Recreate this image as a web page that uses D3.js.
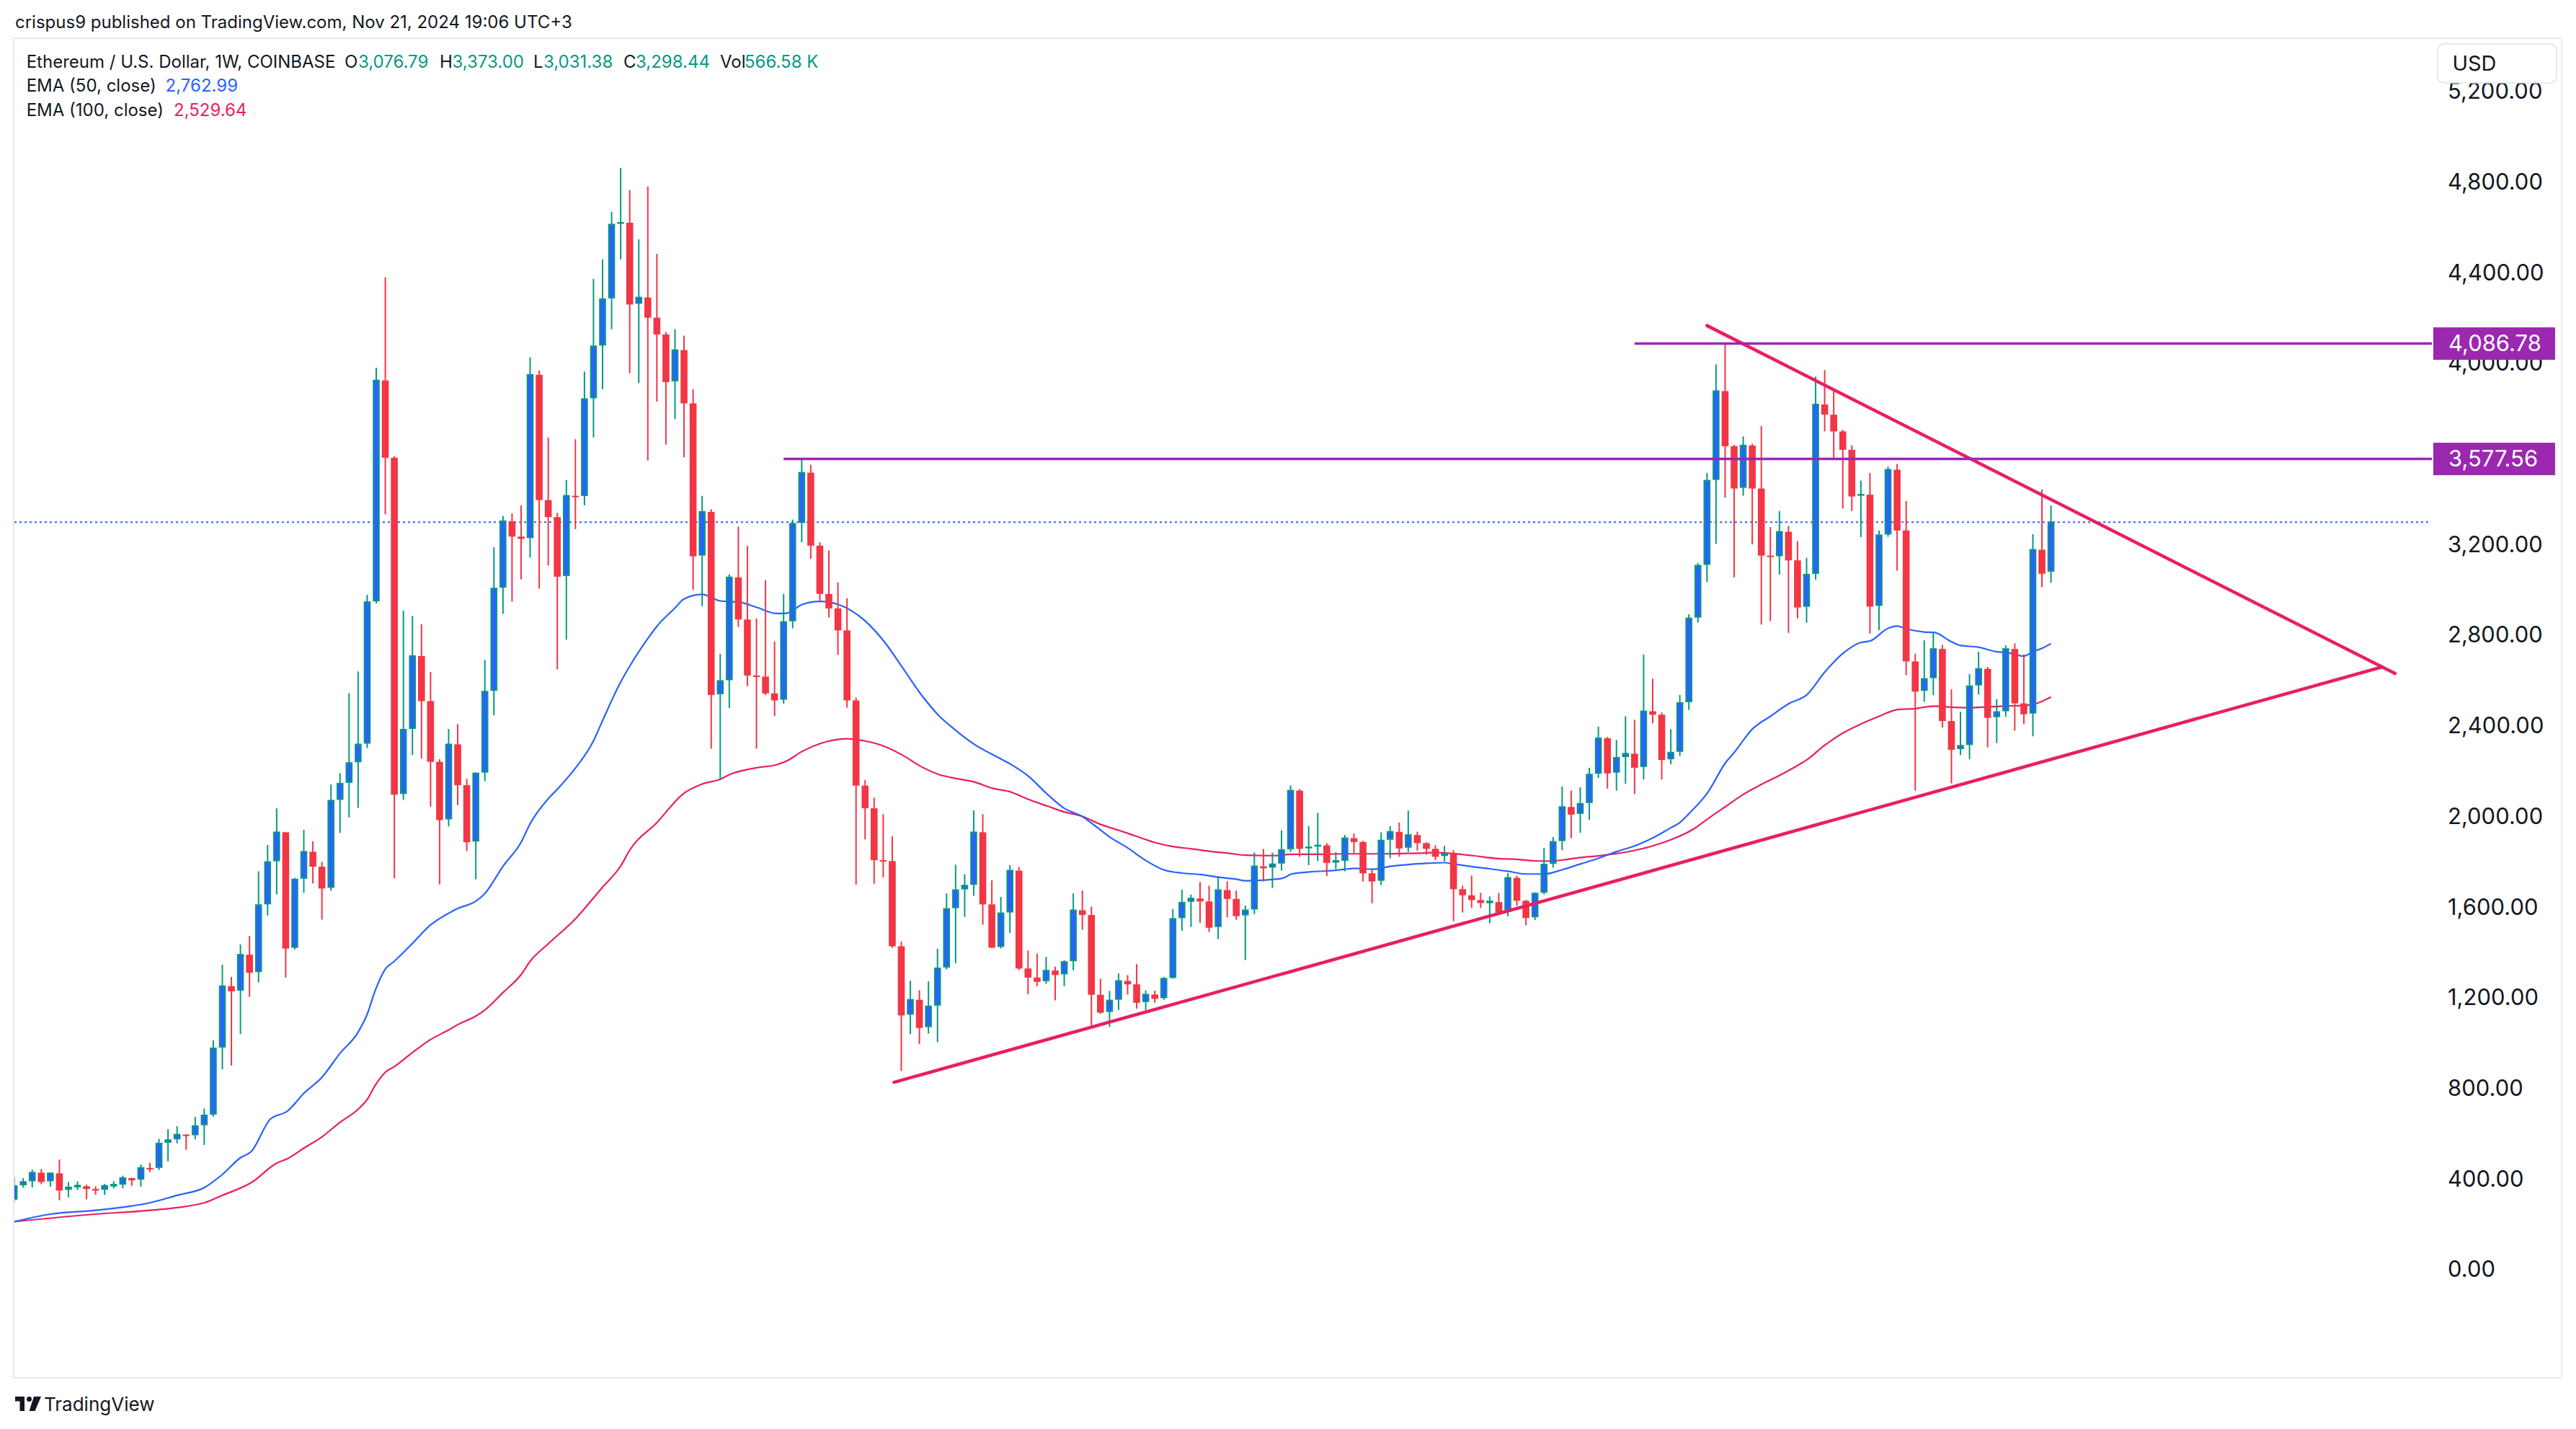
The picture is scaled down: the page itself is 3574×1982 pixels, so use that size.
<!DOCTYPE html>
<html><head><meta charset="utf-8">
<script src="https://cdn.jsdelivr.net/npm/d3@7"></script>
<style>
html,body{margin:0;padding:0;background:#fff;}
svg{display:block;}
text{font-family:Inter,"Noto Sans",Roboto,sans-serif;}
</style></head><body>
<svg id="chart" width="3574" height="1982"></svg>
<script>
// ---------- DATA ----------
const firstWeek = "2020-07-27";           // Monday of the first weekly bar
// weekly candles [open, high, low, close]
const ohlc = [
[306,408,300,369],[369,404,362,387],[387,441,363,428],[428,444,377,387],[387,430,366,425],
[425,486,306,349],[349,387,319,363],[364,390,352,368],[368,375,310,356],[356,368,330,349],
[349,378,330,370],[370,390,359,372],[372,415,359,404],[404,406,370,394],[394,464,367,449],
[449,472,430,446],[446,577,440,557],[557,620,478,572],[572,633,557,596],[596,598,529,590],
[590,674,575,634],[634,711,550,681],[681,1012,675,977],[977,1346,884,1251],[1251,1292,901,1228],
[1228,1435,1040,1390],[1390,1472,1204,1310],[1310,1758,1268,1609],[1609,1874,1563,1799],[1799,2036,1656,1930],
[1930,1932,1289,1417],[1417,1729,1412,1722],[1722,1941,1663,1844],[1844,1890,1704,1778],[1778,1800,1545,1682],
[1682,2141,1672,2070],[2070,2191,1927,2145],[2145,2544,1996,2236],[2236,2640,2038,2318],[2318,2978,2302,2946],
[2946,3980,2940,3924],[3924,4379,3333,3583],[3583,3590,1728,2096],[2096,2908,2073,2383],[2383,2885,2271,2708],
[2708,2848,2255,2509],[2509,2638,2043,2241],[2241,2253,1700,1984],[1984,2386,1956,2318],[2318,2407,2050,2138],
[2138,2166,1847,1886],[1886,2194,1723,2190],[2190,2691,2155,2551],[2551,3188,2446,3006],[3006,3326,2894,3303],
[3303,3338,2948,3235],[3235,3373,3046,3225],[3225,4026,3142,3949],[3949,3968,3006,3396],[3396,3672,3107,3321],
[3321,3340,2649,3058],[3058,3485,2780,3415],[3415,3665,3268,3411],[3411,3963,3373,3842],[3842,4372,3672,4075],
[4075,4458,3886,4283],[4283,4668,4150,4612],[4612,4862,4458,4620],[4620,4764,3956,4259],[4259,4547,3912,4290],
[4290,4780,3571,4201],[4201,4483,3830,4127],[4127,4138,3641,3917],[3917,4150,3753,4058],[4058,4122,3585,3823],
[3823,3886,3000,3148],[3148,3415,2928,3344],[3344,3356,2299,2536],[2536,2717,2160,2598],[2598,3069,2479,3055],
[3055,3279,2836,2869],[2869,3194,2575,2622],[2622,2874,2299,2617],[2617,3042,2536,2543],[2543,2772,2443,2512],
[2512,2982,2498,2858],[2858,3310,2830,3292],[3292,3577.56,3210,3517],[3517,3552,3137,3195],[3195,3210,2945,2982],
[2982,3174,2878,2918],[2918,3033,2713,2821],[2821,2963,2480,2512],[2512,2525,1698,2136],[2136,2160,1899,2036],
[2036,2083,1703,1807],[1807,2010,1731,1803],[1803,1913,1420,1427],[1427,1448,877,1122],[1122,1275,1039,1191],
[1191,1233,995,1067],[1067,1272,1042,1162],[1162,1417,1004,1330],[1330,1660,1325,1592],[1592,1787,1353,1675],
[1675,1745,1557,1695],[1695,2027,1650,1930],[1930,2010,1522,1612],[1612,1718,1419,1421],[1421,1645,1417,1573],
[1573,1785,1486,1761],[1761,1777,1321,1329],[1329,1408,1215,1289],[1289,1395,1251,1270],[1270,1380,1262,1320],
[1320,1337,1188,1300],[1300,1366,1251,1358],[1358,1660,1321,1586],[1586,1673,1500,1565],[1565,1602,1066,1213],
[1213,1284,1129,1134],[1134,1230,1071,1188],[1188,1307,1146,1274],[1274,1300,1214,1259],[1259,1348,1152,1178],
[1178,1233,1146,1214],[1214,1231,1178,1195],[1195,1292,1191,1284],[1284,1592,1284,1548],[1548,1677,1496,1620],
[1620,1655,1512,1638],[1638,1711,1530,1625],[1625,1695,1490,1509],[1509,1737,1459,1675],[1675,1714,1554,1636],
[1636,1673,1544,1560],[1560,1607,1366,1586],[1586,1841,1569,1780],[1780,1857,1713,1771],[1771,1840,1684,1789],
[1789,1939,1761,1852],[1852,2137,1843,2114],[2114,2121,1822,1857],[1857,1958,1785,1864],[1864,2016,1803,1872],
[1872,1883,1737,1795],[1795,1843,1767,1801],[1801,1918,1758,1904],[1904,1925,1838,1887],[1887,1893,1713,1749],
[1749,1766,1617,1713],[1713,1930,1697,1894],[1894,1957,1815,1932],[1932,1973,1822,1859],[1859,2026,1843,1918],
[1918,1933,1849,1882],[1882,1886,1831,1857],[1857,1873,1808,1822],[1822,1870,1801,1835],[1835,1851,1538,1679],
[1679,1695,1576,1652],[1652,1739,1597,1631],[1631,1663,1596,1618],[1618,1647,1528,1622],[1622,1663,1573,1576],
[1576,1750,1560,1729],[1729,1739,1605,1628],[1628,1631,1520,1552],[1552,1665,1543,1660],[1660,1861,1656,1788],
[1788,1909,1774,1888],[1888,2132,1851,2042],[2042,2114,1904,2008],[2008,2129,1928,2056],[2056,2215,1985,2185],
[2185,2397,2170,2345],[2345,2351,2123,2190],[2190,2338,2114,2259],[2259,2442,2144,2277],[2277,2427,2099,2215],
[2215,2714,2163,2464],[2464,2608,2411,2449],[2449,2459,2163,2249],[2249,2385,2230,2282],[2282,2536,2267,2501],
[2501,2892,2470,2874],[2874,3119,2855,3107],[3107,3516,3034,3482],[3482,3995,3203,3877],[3877,4086.78,3407,3634],
[3634,3640,3055,3447],[3447,3677,3415,3637],[3637,3645,3200,3447],[3447,3723,2847,3151],[3151,3277,2862,3145],
[3145,3348,3067,3256],[3256,3282,2810,3130],[3130,3215,2874,2922],[2922,3141,2855,3067],[3067,3941,3045,3818],
[3818,3970,3699,3773],[3773,3877,3573,3699],[3699,3707,3359,3618],[3618,3637,3348,3412],[3412,3482,3233,3420],
[3420,3516,2807,2926],[2926,3262,2822,3241],[3241,3544,3234,3530],[3530,3556,3085,3262],[3262,3392,2624,2684],
[2684,2718,2114,2551],[2551,2777,2506,2607],[2607,2814,2535,2739],[2739,2757,2392,2421],[2421,2561,2146,2294],
[2294,2462,2271,2312],[2312,2628,2252,2575],[2575,2727,2538,2651],[2651,2660,2305,2435],[2435,2517,2324,2461],
[2461,2755,2439,2739],[2739,2764,2379,2499],[2499,2716,2407,2451],[2451,3245,2354,3177],[3177,3443,3012,3071],
[3076.79,3373.00,3031.38,3298.44]
];
// EMA readings [week index from first bar, value]
const ema50 = [[0,212],[4,245],[9,262],[13,281],[15,295],[18,328],[21,362],[23,420],[25,494],[26.2,522],[28.3,664],[30.2,700],[32,778],[34,849],[36,955],[38,1048],[39,1127],[39.9,1233],[41,1326],[42,1361],[44,1440],[45.9,1518],[48,1573],[49,1594],[51,1626],[52,1660],[54,1780],[56,1886],[57,1968],[59,2078],[60,2120],[62,2213],[64,2334],[65,2423],[67,2593],[68,2663],[70,2785],[71,2839],[73,2920],[74,2960],[76,2980],[78,2951],[80.2,2945],[82,2923],[84.2,2896],[85.2,2896],[87.1,2936],[89,2949],[91,2936],[94,2863],[96.1,2772],[98.2,2653],[100.1,2543],[102.2,2443],[103.5,2397],[106,2320],[108.6,2262],[110.1,2230],[112,2179],[114,2103],[116,2036],[117.9,2002],[119.2,1965],[121.1,1907],[122.9,1864],[125,1806],[127,1764],[129,1750],[131,1744],[133,1732],[135,1723],[136,1716],[138,1719],[140.1,1727],[141.1,1746],[143.1,1755],[146,1762],[148.1,1771],[150.1,1767],[152,1780],[154,1788],[156,1793],[158,1796],[159,1790],[161.1,1778],[163,1769],[165,1758],[167,1746],[169,1746],[171.1,1766],[173,1790],[175,1815],[177,1845],[179,1870],[181,1905],[183,1950],[184,1973],[185,2012],[187.1,2107],[189.1,2240],[190,2282],[192,2385],[194,2442],[196.1,2499],[198,2536],[200,2637],[202,2719],[204,2768],[205,2774],[207,2830],[208,2840],[209.2,2826],[211,2814],[212.1,2812],[214,2771],[215,2755],[217,2747],[219.1,2726],[220,2724],[222,2708],[223,2727],[224,2742],[225,2763]];
const ema100 = [[0,212],[9,245],[15,262],[21,295],[23,328],[26.2,384],[29,470],[30.2,490],[32,536],[34,586],[36,650],[38,708],[39,751],[39.9,814],[41,871],[42,896],[44,958],[45.9,1013],[48,1058],[49.1,1083],[51,1119],[52,1146],[54,1223],[56,1302],[57,1361],[59,1438],[62,1548],[65,1688],[67,1781],[68,1851],[71,1973],[74,2103],[76,2143],[78,2164],[79,2184],[82,2215],[84.2,2228],[85.2,2242],[87.1,2288],[89,2321],[92,2343],[94,2333],[96.1,2310],[98.2,2269],[100.1,2222],[102.1,2186],[104.1,2167],[106,2153],[108.1,2124],[110.1,2108],[112,2076],[114.2,2045],[116,2020],[117.9,2002],[120,1965],[122,1939],[124,1912],[126,1885],[128,1867],[130.1,1857],[132.1,1846],[134.1,1838],[136.1,1829],[139.1,1827],[141.1,1833],[143.1,1833],[147,1835],[151,1835],[155,1838],[157,1840],[159,1836],[161.1,1827],[164,1814],[166,1811],[168,1804],[169,1803],[171.1,1808],[173,1819],[175,1826],[177,1836],[179,1850],[181,1870],[183,1897],[185.5,1944],[187.1,1990],[189.1,2045],[191,2097],[193,2141],[195,2181],[197,2225],[198,2249],[200,2314],[202,2368],[204,2408],[206,2442],[207,2459],[208.1,2472],[210,2476],[212.1,2487],[214,2482],[216,2480],[218,2483],[220,2487],[222,2490],[223,2493],[224,2508],[225,2527]];
const priceTicks = [0,400,800,1200,1600,2000,2400,2800,3200,4000,4400,4800,5200];
const timeTicks = [["2020-09-07","Sep"],["2021-01-04","2021"],["2021-05-03","May"],["2021-09-06","Sep"],["2022-01-03","2022"],["2022-05-02","May"],["2022-09-05","Sep"],["2023-01-02","2023"],["2023-05-01","May"],["2023-09-04","Sep"],["2024-01-01","2024"],["2024-05-06","May"],["2024-09-02","Sep"],["2025-01-06","2025"],["2025-05-05","May"],["2025-09-01","Sep"]];
// horizontal levels [start week index, price]
const levels = [[85,3577.56],[179,4086.78]];
// drawn trend lines [[week index, price],[week index, price]]
const trendLines = [[[97.2,827],[261.6,2660]],[[187.0,4166],[263.0,2631]]];
const lastPrice = 3298.44;
const header = "crispus9 published on TradingView.com, Nov 21, 2024 19:06 UTC+3";
const legendTitle = "Ethereum / U.S. Dollar, 1W, COINBASE";
const legendOHLC = [["O","3,076.79"],["H","3,373.00"],["L","3,031.38"],["C","3,298.44"],["Vol","566.58 K"]];
const legendEMA = [["EMA (50, close)","2,762.99"],["EMA (100, close)","2,529.64"]];

// ---------- STYLE ----------
const C_UP="#089981", C_UPBODY="#2962FF", C_DN="#F23645", C_E50="#2962FF", C_E100="#E91E63",
      C_TREND="#E91E63", C_LEVEL="#9C27B0", C_TXT="#131722", C_FRAME="#E6E9F0";
const plotL=20, plotR=3373, plotT=54, plotB=1855;

const svg = d3.select("#chart");
const DAY=864e5;
const t0 = new Date(firstWeek+"T00:00:00Z");
const wk = i => new Date(t0.getTime()+i*7*DAY);
const x = d3.scaleUtc().domain([t0, wk(ohlc.length-1)]).range([19.6, 2845.6]);
const y = d3.scaleLinear().domain([0,5200]).range([1761, 1761-0.3143*5200]);
const xi = i => x(wk(i));

svg.append("rect").attr("width",3574).attr("height",1982).attr("fill","#fff");
const defs = svg.append("defs");
defs.append("clipPath").attr("id","plotclip").append("rect")
  .attr("x",plotL).attr("y",plotT).attr("width",plotR-plotL).attr("height",plotB-plotT);
defs.append("clipPath").attr("id","xclip").append("rect")
  .attr("x",plotL).attr("y",plotB).attr("width",plotR-plotL).attr("height",60);

// header
svg.append("text").attr("x",21).attr("y",39).attr("font-size",24).attr("fill",C_TXT).text(header);
// frame
svg.append("rect").attr("x",19).attr("y",53).attr("width",3535).attr("height",1858)
  .attr("fill","none").attr("stroke",C_FRAME).attr("stroke-width",2);

const plot = svg.append("g").attr("clip-path","url(#plotclip)");

// current price dotted line
plot.append("line").attr("x1",plotL).attr("x2",3370).attr("y1",y(lastPrice)).attr("y2",y(lastPrice))
  .attr("stroke",C_E50).attr("stroke-width",2).attr("stroke-dasharray","3,4");

// EMAs
const line = d3.line().x(d=>xi(d[0])).y(d=>y(d[1])).curve(d3.curveMonotoneX);
plot.append("path").attr("d",line(ema100)).attr("fill","none").attr("stroke",C_E100).attr("stroke-width",2.2);
plot.append("path").attr("d",line(ema50)).attr("fill","none").attr("stroke",C_E50).attr("stroke-width",2.2);

// candles
const bw = 9.6;
const cg = plot.append("g");
ohlc.forEach((d,i)=>{
  const [o,h,l,c]=d, up=c>=o, cx=xi(i);
  cg.append("line").attr("x1",cx).attr("x2",cx).attr("y1",y(h)).attr("y2",y(l))
    .attr("stroke",up?C_UP:C_DN).attr("stroke-width",2);
  const top=y(Math.max(o,c)), bot=y(Math.min(o,c));
  if(up){
    const hh=Math.max(bot-top,0);
    cg.append("rect").attr("x",cx-bw/2+1).attr("y",top-1+ (hh<2?0:1)).attr("width",bw-2).attr("height",Math.max(hh-2,0.5)+ (hh<2?1:0))
      .attr("fill",C_UPBODY).attr("stroke",C_UP).attr("stroke-width",2);
  } else {
    cg.append("rect").attr("x",cx-bw/2).attr("y",top).attr("width",bw).attr("height",Math.max(bot-top,2))
      .attr("fill",C_DN);
  }
});

// levels
levels.forEach(([s,v])=>{
  svg.append("line").attr("x1",xi(s)).attr("x2",plotR+1).attr("y1",y(v)).attr("y2",y(v))
    .attr("stroke",C_LEVEL).attr("stroke-width",3.5);
});
// trend lines
trendLines.forEach(tl=>{
  plot.append("line").attr("x1",xi(tl[0][0])).attr("y1",y(tl[0][1])).attr("x2",xi(tl[1][0])).attr("y2",y(tl[1][1]))
    .attr("stroke",C_TREND).attr("stroke-width",4.5).attr("stroke-linecap","round");
});

// price axis
const gy = svg.append("g").attr("transform","translate(3396,0)")
  .call(d3.axisRight(y).tickValues(priceTicks).tickSize(0).tickPadding(0).tickFormat(d3.format(",.2f")));
gy.select(".domain").remove();
gy.selectAll("text").attr("font-size",31).attr("fill",C_TXT).attr("font-family","Inter,Roboto,sans-serif");

// level labels
levels.forEach(([s,v])=>{
  svg.append("rect").attr("x",3376).attr("y",y(v)-22.5).attr("width",169).attr("height",45).attr("fill",C_LEVEL);
  svg.append("text").attr("x",3397).attr("y",y(v)).attr("dy","0.35em").attr("font-size",31).attr("fill","#fff")
    .text(d3.format(",.2f")(v));
});

// USD box
svg.append("rect").attr("x",3382).attr("y",61).attr("width",165).attr("height",54).attr("rx",9)
  .attr("fill","#fff").attr("stroke","#E0E3EB").attr("stroke-width",1.5);
svg.append("text").attr("x",3433).attr("y",88).attr("dy","0.35em").attr("text-anchor","middle")
  .attr("font-size",29).attr("fill",C_TXT).text("USD");

// time axis
const tickDates = timeTicks.map(t=>new Date(t[0]+"T00:00:00Z"));
const labelOf = new Map(timeTicks.map(t=>[new Date(t[0]+"T00:00:00Z").getTime(), t[1]]));
const gx = svg.append("g").attr("transform",`translate(0,${plotB})`).attr("clip-path","url(#xclip)");
gx.append("g")
  .call(d3.axisBottom(x).tickValues(tickDates).tickSize(0).tickPadding(10).tickFormat(d=>labelOf.get(d.getTime())));
gx.select(".domain").remove();
gx.selectAll("text").attr("font-size",31).attr("fill",C_TXT).attr("font-family","Inter,Roboto,sans-serif")
  .attr("font-weight",function(){ return /^\d{4}$/.test(this.textContent)?700:400; });

// legend
const lg = svg.append("g").attr("font-size",24);
lg.append("text").attr("x",36.7).attr("y",94).attr("fill",C_TXT).text(legendTitle);
const ohlcX = [[478,497],[610,627.5],[740,754],[865,882],[999,1033]];
legendOHLC.forEach(([k,v],j)=>{
  lg.append("text").attr("x",ohlcX[j][0]).attr("y",94).attr("fill",C_TXT).text(k);
  lg.append("text").attr("x",ohlcX[j][1]).attr("y",94).attr("fill",C_UP).text(v);
});
const emaX=[229.6,241], emaY=[127,160.7], emaC=[C_E50,C_E100];
legendEMA.forEach(([k,v],j)=>{
  lg.append("text").attr("x",36.7).attr("y",emaY[j]).attr("fill",C_TXT).text(k);
  lg.append("text").attr("x",emaX[j]).attr("y",emaY[j]).attr("fill",emaC[j]).text(v);
});

// TradingView logo
const logo = svg.append("g").attr("fill",C_TXT);
logo.append("path").attr("d","M21 1937 h13 v20 h-6.5 v-13.5 h-6.5 z");
logo.append("circle").attr("cx",40.5).attr("cy",1940.5).attr("r",3.5);
logo.append("path").attr("d","M47 1937 h10 l-8.5 20 h-8 z");
svg.append("text").attr("x",61).attr("y",1957).attr("font-size",26).attr("fill",C_TXT).text("TradingView");
</script>
</body></html>
